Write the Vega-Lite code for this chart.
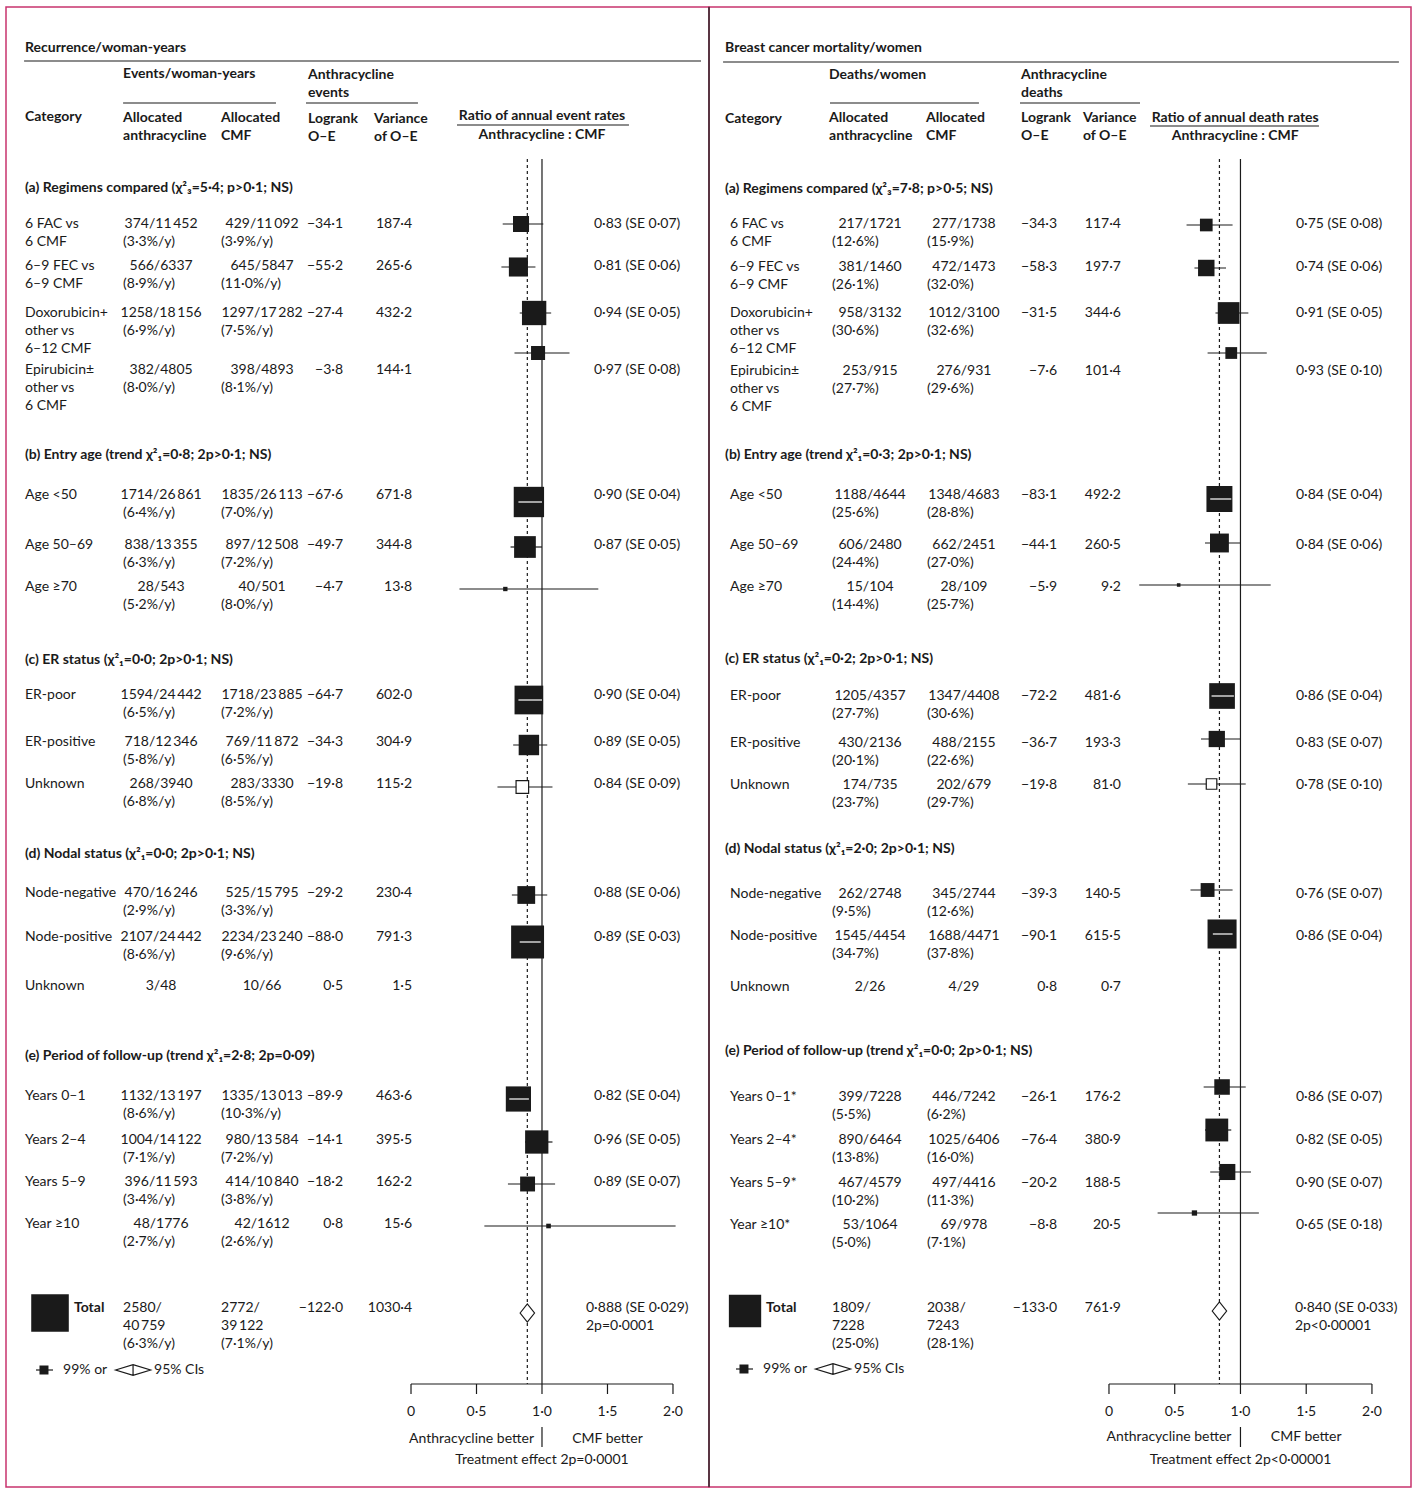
{
  "$schema": "https://vega.github.io/schema/vega-lite/v6.json",
  "background": "white",
  "padding": {"left": 5, "top": 5, "right": 5, "bottom": 3},
  "spacing": 0,
  "bounds": "flush",
  "config": {
    "view": {"stroke": null},
    "text": {"font": "Lato", "fontSize": 14, "color": "#1a1a1a", "baseline": "top", "dy": -7, "align": "left", "lineHeight": 18, "lineBreak": "\n"},
    "rule": {"color": "#1a1a1a", "strokeWidth": 1.2},
    "point": {"opacity": 1}
  },
  "datasets": {
    "ticks": [
      {"r": 0, "lab": "0"},
      {"r": 0.5, "lab": "0·5"},
      {"r": 1, "lab": "1·0"},
      {"r": 1.5, "lab": "1·5"},
      {"r": 2, "lab": "2·0"}
    ],
    "Lrows": [
      {"line": 10.85, "cat": "6 FAC vs\n6 CMF", "af": "374/11\u2009452", "ar": "(3·3%/y)", "cf": "429/11\u2009092", "cr": "(3·9%/y)", "oe": "−34·1", "v": "187·4", "rt": "0·83 (SE 0·07)"},
      {"line": 12.95, "cat": "6–9 FEC vs\n6–9 CMF", "af": "566/6337", "ar": "(8·9%/y)", "cf": "645/5847", "cr": "(11·0%/y)", "oe": "−55·2", "v": "265·6", "rt": "0·81 (SE 0·06)"},
      {"line": 15.3, "cat": "Doxorubicin+\nother vs\n6–12 CMF", "af": "1258/18\u2009156", "ar": "(6·9%/y)", "cf": "1297/17\u2009282", "cr": "(7·5%/y)", "oe": "−27·4", "v": "432·2", "rt": "0·94 (SE 0·05)"},
      {"line": 18.15, "cat": "Epirubicin±\nother vs\n6 CMF", "af": "382/4805", "ar": "(8·0%/y)", "cf": "398/4893", "cr": "(8·1%/y)", "oe": "−3·8", "v": "144·1", "rt": "0·97 (SE 0·08)"},
      {"line": 24.4, "cat": "Age <50", "af": "1714/26\u2009861", "ar": "(6·4%/y)", "cf": "1835/26\u2009113", "cr": "(7·0%/y)", "oe": "−67·6", "v": "671·8", "rt": "0·90 (SE 0·04)"},
      {"line": 26.9, "cat": "Age 50–69", "af": "838/13\u2009355", "ar": "(6·3%/y)", "cf": "897/12\u2009508", "cr": "(7·2%/y)", "oe": "−49·7", "v": "344·8", "rt": "0·87 (SE 0·05)"},
      {"line": 29.0, "cat": "Age ≥70", "af": "28/543", "ar": "(5·2%/y)", "cf": "40/501", "cr": "(8·0%/y)", "oe": "−4·7", "v": "13·8", "rt": ""},
      {"line": 34.4, "cat": "ER-poor", "af": "1594/24\u2009442", "ar": "(6·5%/y)", "cf": "1718/23\u2009885", "cr": "(7·2%/y)", "oe": "−64·7", "v": "602·0", "rt": "0·90 (SE 0·04)"},
      {"line": 36.75, "cat": "ER-positive", "af": "718/12\u2009346", "ar": "(5·8%/y)", "cf": "769/11\u2009872", "cr": "(6·5%/y)", "oe": "−34·3", "v": "304·9", "rt": "0·89 (SE 0·05)"},
      {"line": 38.85, "cat": "Unknown", "af": "268/3940", "ar": "(6·8%/y)", "cf": "283/3330", "cr": "(8·5%/y)", "oe": "−19·8", "v": "115·2", "rt": "0·84 (SE 0·09)"},
      {"line": 44.3, "cat": "Node-negative", "af": "470/16\u2009246", "ar": "(2·9%/y)", "cf": "525/15\u2009795", "cr": "(3·3%/y)", "oe": "−29·2", "v": "230·4", "rt": "0·88 (SE 0·06)"},
      {"line": 46.5, "cat": "Node-positive", "af": "2107/24\u2009442", "ar": "(8·6%/y)", "cf": "2234/23\u2009240", "cr": "(9·6%/y)", "oe": "−88·0", "v": "791·3", "rt": "0·89 (SE 0·03)"},
      {"line": 48.95, "cat": "Unknown", "af": "3/48", "ar": "", "cf": "10/66", "cr": "", "oe": "0·5", "v": "1·5", "rt": ""},
      {"line": 54.45, "cat": "Years 0–1", "af": "1132/13\u2009197", "ar": "(8·6%/y)", "cf": "1335/13\u2009013", "cr": "(10·3%/y)", "oe": "−89·9", "v": "463·6", "rt": "0·82 (SE 0·04)"},
      {"line": 56.65, "cat": "Years 2–4", "af": "1004/14\u2009122", "ar": "(7·1%/y)", "cf": "980/13\u2009584", "cr": "(7·2%/y)", "oe": "−14·1", "v": "395·5", "rt": "0·96 (SE 0·05)"},
      {"line": 58.75, "cat": "Years 5–9", "af": "396/11\u2009593", "ar": "(3·4%/y)", "cf": "414/10\u2009840", "cr": "(3·8%/y)", "oe": "−18·2", "v": "162·2", "rt": "0·89 (SE 0·07)"},
      {"line": 60.85, "cat": "Year ≥10", "af": "48/1776", "ar": "(2·7%/y)", "cf": "42/1612", "cr": "(2·6%/y)", "oe": "0·8", "v": "15·6", "rt": ""}
    ],
    "Lfp": [
      {"cat": "6 FAC vs 6 CMF", "line": 10.85, "r": 0.84, "lo": 0.70, "hi": 1.01, "var": 187.4},
      {"cat": "6–9 FEC vs 6–9 CMF", "line": 13.0, "r": 0.82, "lo": 0.69, "hi": 0.95, "var": 265.6},
      {"cat": "Doxorubicin+ other vs 6–12 CMF", "line": 15.3, "r": 0.94, "lo": 0.83, "hi": 1.07, "var": 432.2},
      {"cat": "Epirubicin± other vs 6 CMF", "line": 17.3, "r": 0.97, "lo": 0.79, "hi": 1.21, "var": 144.1},
      {"cat": "Age <50", "line": 24.75, "r": 0.90, "lo": 0.82, "hi": 1.00, "var": 671.8},
      {"cat": "Age 50–69", "line": 27.0, "r": 0.87, "lo": 0.76, "hi": 1.00, "var": 344.8},
      {"cat": "Age ≥70", "line": 29.1, "r": 0.72, "lo": 0.37, "hi": 1.43, "var": 13.8},
      {"cat": "ER-poor", "line": 34.65, "r": 0.90, "lo": 0.82, "hi": 1.00, "var": 602.0},
      {"cat": "ER-positive", "line": 36.9, "r": 0.90, "lo": 0.78, "hi": 1.04, "var": 304.9},
      {"cat": "Unknown", "line": 39.0, "r": 0.85, "lo": 0.66, "hi": 1.08, "var": 115.2},
      {"cat": "Node-negative", "line": 44.4, "r": 0.88, "lo": 0.77, "hi": 1.04, "var": 230.4},
      {"cat": "Node-positive", "line": 46.75, "r": 0.89, "lo": 0.83, "hi": 0.99, "var": 791.3},
      {"cat": "Years 0–1", "line": 54.6, "r": 0.82, "lo": 0.75, "hi": 0.90, "var": 463.6},
      {"cat": "Years 2–4", "line": 56.75, "r": 0.96, "lo": 0.87, "hi": 1.08, "var": 395.5},
      {"cat": "Years 5–9", "line": 58.85, "r": 0.89, "lo": 0.74, "hi": 1.10, "var": 162.2},
      {"cat": "Year ≥10", "line": 60.95, "r": 1.05, "lo": 0.56, "hi": 2.02, "var": 15.6}
    ],
    "Ltot": [
      {"line": 65.05, "mline": 65.3, "lab": "Total", "af": "2580/\n40\u2009759\n(6·3%/y)", "cf": "2772/\n39\u2009122\n(7·1%/y)", "oe": "−122·0", "v": "1030·4", "rt": "0·888 (SE 0·029)\n2p=0·0001", "r": 0.888, "var": 1030.4}
    ],
    "Lhead": [
      {"line": 9.05, "t": "(a) Regimens compared (χ²₃=5·4; p>0·1; NS)"},
      {"line": 22.4, "t": "(b) Entry age (trend χ²₁=0·8; 2p>0·1; NS)"},
      {"line": 32.65, "t": "(c) ER status (χ²₁=0·0; 2p>0·1; NS)"},
      {"line": 42.35, "t": "(d) Nodal status (χ²₁=0·0; 2p>0·1; NS)"},
      {"line": 52.45, "t": "(e) Period of follow-up (trend χ²₁=2·8; 2p=0·09)"}
    ],
    "Lhdr": [
      {"c": "cat", "line": 2.05, "t": "Recurrence/woman-years"},
      {"c": "cat", "line": 5.5, "t": "Category"},
      {"c": "an", "line": 3.35, "t": "Events/woman-years"},
      {"c": "an", "line": 5.55, "t": "Allocated\nanthracycline"},
      {"c": "cm", "line": 5.55, "t": "Allocated\nCMF"},
      {"c": "lr", "line": 3.4, "t": "Anthracycline\nevents"},
      {"c": "lr", "line": 5.6, "t": "Logrank\nO–E"},
      {"c": "va", "line": 5.6, "t": "Variance\nof O–E"},
      {"c": "mid", "line": 5.45, "t": "Ratio of annual event rates"},
      {"c": "mid", "line": 6.4, "t": "Anthracycline : CMF"}
    ],
    "Lfoot": [
      {"c": "l1", "line": 68.15, "t": "99% or"},
      {"c": "l2", "line": 68.15, "t": "95% CIs"},
      {"c": "lb", "line": 71.6, "t": "Anthracycline better"},
      {"c": "rb", "line": 71.6, "t": "CMF better"},
      {"c": "te", "line": 72.65, "t": "Treatment effect 2p=0·0001"}
    ],
    "Rrows": [
      {"line": 10.85, "cat": "6 FAC vs\n6 CMF", "af": "217/1721", "ar": "(12·6%)", "cf": "277/1738", "cr": "(15·9%)", "oe": "−34·3", "v": "117·4", "rt": "0·75 (SE 0·08)"},
      {"line": 13.0, "cat": "6–9 FEC vs\n6–9 CMF", "af": "381/1460", "ar": "(26·1%)", "cf": "472/1473", "cr": "(32·0%)", "oe": "−58·3", "v": "197·7", "rt": "0·74 (SE 0·06)"},
      {"line": 15.3, "cat": "Doxorubicin+\nother vs\n6–12 CMF", "af": "958/3132", "ar": "(30·6%)", "cf": "1012/3100", "cr": "(32·6%)", "oe": "−31·5", "v": "344·6", "rt": "0·91 (SE 0·05)"},
      {"line": 18.2, "cat": "Epirubicin±\nother vs\n6 CMF", "af": "253/915", "ar": "(27·7%)", "cf": "276/931", "cr": "(29·6%)", "oe": "−7·6", "v": "101·4", "rt": "0·93 (SE 0·10)"},
      {"line": 24.4, "cat": "Age <50", "af": "1188/4644", "ar": "(25·6%)", "cf": "1348/4683", "cr": "(28·8%)", "oe": "−83·1", "v": "492·2", "rt": "0·84 (SE 0·04)"},
      {"line": 26.9, "cat": "Age 50–69", "af": "606/2480", "ar": "(24·4%)", "cf": "662/2451", "cr": "(27·0%)", "oe": "−44·1", "v": "260·5", "rt": "0·84 (SE 0·06)"},
      {"line": 29.0, "cat": "Age ≥70", "af": "15/104", "ar": "(14·4%)", "cf": "28/109", "cr": "(25·7%)", "oe": "−5·9", "v": "9·2", "rt": ""},
      {"line": 34.45, "cat": "ER-poor", "af": "1205/4357", "ar": "(27·7%)", "cf": "1347/4408", "cr": "(30·6%)", "oe": "−72·2", "v": "481·6", "rt": "0·86 (SE 0·04)"},
      {"line": 36.8, "cat": "ER-positive", "af": "430/2136", "ar": "(20·1%)", "cf": "488/2155", "cr": "(22·6%)", "oe": "−36·7", "v": "193·3", "rt": "0·83 (SE 0·07)"},
      {"line": 38.9, "cat": "Unknown", "af": "174/735", "ar": "(23·7%)", "cf": "202/679", "cr": "(29·7%)", "oe": "−19·8", "v": "81·0", "rt": "0·78 (SE 0·10)"},
      {"line": 44.35, "cat": "Node-negative", "af": "262/2748", "ar": "(9·5%)", "cf": "345/2744", "cr": "(12·6%)", "oe": "−39·3", "v": "140·5", "rt": "0·76 (SE 0·07)"},
      {"line": 46.45, "cat": "Node-positive", "af": "1545/4454", "ar": "(34·7%)", "cf": "1688/4471", "cr": "(37·8%)", "oe": "−90·1", "v": "615·5", "rt": "0·86 (SE 0·04)"},
      {"line": 49.0, "cat": "Unknown", "af": "2/26", "ar": "", "cf": "4/29", "cr": "", "oe": "0·8", "v": "0·7", "rt": ""},
      {"line": 54.5, "cat": "Years 0–1*", "af": "399/7228", "ar": "(5·5%)", "cf": "446/7242", "cr": "(6·2%)", "oe": "−26·1", "v": "176·2", "rt": "0·86 (SE 0·07)"},
      {"line": 56.65, "cat": "Years 2–4*", "af": "890/6464", "ar": "(13·8%)", "cf": "1025/6406", "cr": "(16·0%)", "oe": "−76·4", "v": "380·9", "rt": "0·82 (SE 0·05)"},
      {"line": 58.8, "cat": "Years 5–9*", "af": "467/4579", "ar": "(10·2%)", "cf": "497/4416", "cr": "(11·3%)", "oe": "−20·2", "v": "188·5", "rt": "0·90 (SE 0·07)"},
      {"line": 60.9, "cat": "Year ≥10*", "af": "53/1064", "ar": "(5·0%)", "cf": "69/978", "cr": "(7·1%)", "oe": "−8·8", "v": "20·5", "rt": "0·65 (SE 0·18)"}
    ],
    "Rfp": [
      {"cat": "6 FAC vs 6 CMF", "line": 10.9, "r": 0.74, "lo": 0.59, "hi": 0.94, "var": 117.4},
      {"cat": "6–9 FEC vs 6–9 CMF", "line": 13.05, "r": 0.74, "lo": 0.65, "hi": 0.89, "var": 197.7},
      {"cat": "Doxorubicin+ other vs 6–12 CMF", "line": 15.3, "r": 0.91, "lo": 0.81, "hi": 1.06, "var": 344.6},
      {"cat": "Epirubicin± other vs 6 CMF", "line": 17.3, "r": 0.93, "lo": 0.75, "hi": 1.20, "var": 101.4},
      {"cat": "Age <50", "line": 24.6, "r": 0.84, "lo": 0.77, "hi": 0.93, "var": 492.2},
      {"cat": "Age 50–69", "line": 26.8, "r": 0.84, "lo": 0.73, "hi": 1.00, "var": 260.5},
      {"cat": "Age ≥70", "line": 28.9, "r": 0.53, "lo": 0.23, "hi": 1.23, "var": 9.2},
      {"cat": "ER-poor", "line": 34.45, "r": 0.86, "lo": 0.78, "hi": 0.95, "var": 481.6},
      {"cat": "ER-positive", "line": 36.6, "r": 0.82, "lo": 0.70, "hi": 1.00, "var": 193.3},
      {"cat": "Unknown", "line": 38.85, "r": 0.78, "lo": 0.60, "hi": 1.04, "var": 81.0},
      {"cat": "Node-negative", "line": 44.15, "r": 0.75, "lo": 0.62, "hi": 0.94, "var": 140.5},
      {"cat": "Node-positive", "line": 46.35, "r": 0.86, "lo": 0.79, "hi": 0.94, "var": 615.5},
      {"cat": "Years 0–1", "line": 54.0, "r": 0.86, "lo": 0.72, "hi": 1.04, "var": 176.2},
      {"cat": "Years 2–4", "line": 56.15, "r": 0.82, "lo": 0.73, "hi": 0.93, "var": 380.9},
      {"cat": "Years 5–9", "line": 58.25, "r": 0.90, "lo": 0.77, "hi": 1.08, "var": 188.5},
      {"cat": "Year ≥10", "line": 60.3, "r": 0.65, "lo": 0.37, "hi": 1.14, "var": 20.5}
    ],
    "Rtot": [
      {"line": 65.05, "mline": 65.2, "lab": "Total", "af": "1809/\n7228\n(25·0%)", "cf": "2038/\n7243\n(28·1%)", "oe": "−133·0", "v": "761·9", "rt": "0·840 (SE 0·033)\n2p<0·00001", "r": 0.84, "var": 761.9}
    ],
    "Rhead": [
      {"line": 9.1, "t": "(a) Regimens compared (χ²₃=7·8; p>0·5; NS)"},
      {"line": 22.4, "t": "(b) Entry age (trend χ²₁=0·3; 2p>0·1; NS)"},
      {"line": 32.6, "t": "(c) ER status (χ²₁=0·2; 2p>0·1; NS)"},
      {"line": 42.1, "t": "(d) Nodal status (χ²₁=2·0; 2p>0·1; NS)"},
      {"line": 52.2, "t": "(e) Period of follow-up (trend χ²₁=0·0; 2p>0·1; NS)"}
    ],
    "Rhdr": [
      {"c": "cat", "line": 2.05, "t": "Breast cancer mortality/women"},
      {"c": "cat", "line": 5.6, "t": "Category"},
      {"c": "an", "line": 3.4, "t": "Deaths/women"},
      {"c": "an", "line": 5.55, "t": "Allocated\nanthracycline"},
      {"c": "cm", "line": 5.55, "t": "Allocated\nCMF"},
      {"c": "lr", "line": 3.4, "t": "Anthracycline\ndeaths"},
      {"c": "lr", "line": 5.55, "t": "Logrank\nO–E"},
      {"c": "va", "line": 5.55, "t": "Variance\nof O–E"},
      {"c": "mid", "line": 5.55, "t": "Ratio of annual death rates"},
      {"c": "mid", "line": 6.45, "t": "Anthracycline : CMF"}
    ],
    "Rfoot": [
      {"c": "l1", "line": 68.1, "t": "99% or"},
      {"c": "l2", "line": 68.1, "t": "95% CIs"},
      {"c": "lb", "line": 71.5, "t": "Anthracycline better"},
      {"c": "rb", "line": 71.5, "t": "CMF better"},
      {"c": "te", "line": 72.65, "t": "Treatment effect 2p<0·00001"}
    ]
  },
  "hconcat": [
    {
      "width": 703,
      "height": 1480,
      "view": {"stroke": "#c8336e", "strokeWidth": 1.5},
      "layer": [
        {"data": {"values": [{}]}, "mark": "rule",
         "encoding": {
           "x": {"datum": 0, "scale": {"domain": [-3.092, 2.275], "nice": false, "zero": false}, "axis": null},
           "x2": {"datum": 2},
           "y": {"datum": 68.85, "scale": {"domain": [0, 74], "reverse": true, "nice": false, "zero": false}, "axis": null}
         }},
        {"data": {"name": "ticks"},
         "encoding": {"x": {"field": "r", "type": "quantitative", "axis": null}},
         "layer": [
           {"mark": "rule", "encoding": {"y": {"datum": 68.85, "axis": null}, "y2": {"datum": 69.35}}},
           {"mark": {"type": "text", "align": "center"}, "encoding": {"y": {"datum": 70.25, "axis": null}, "text": {"field": "lab"}}}
         ]},
        {"data": {"values": [{}]}, "mark": "rule",
         "encoding": {"x": {"datum": 1, "axis": null}, "y": {"datum": 7.6, "axis": null}, "y2": {"datum": 68.85}}},
        {"data": {"values": [{}]}, "mark": "rule",
         "encoding": {"x": {"datum": 1, "axis": null}, "y": {"datum": 71.0, "axis": null}, "y2": {"datum": 72.0}}},
        {"data": {"values": [{}]}, "mark": "rule",
         "encoding": {"x": {"datum": -2.954, "axis": null}, "x2": {"datum": 2.214}, "y": {"datum": 2.7, "axis": null}}},
        {"data": {"values": [{}]}, "mark": "rule",
         "encoding": {"x": {"datum": -2.198, "axis": null}, "x2": {"datum": -1.031}, "y": {"datum": 4.8, "axis": null}}},
        {"data": {"values": [{}]}, "mark": "rule",
         "encoding": {"x": {"datum": -0.802, "axis": null}, "x2": {"datum": 0.053}, "y": {"datum": 4.8, "axis": null}}},
        {"data": {"values": [{}]}, "mark": "rule",
         "encoding": {"x": {"datum": 0.351, "axis": null}, "x2": {"datum": 1.664}, "y": {"datum": 5.9, "axis": null}}},
        {"data": {"values": [{}]}, "mark": "rule",
         "encoding": {"x": {"datum": -2.863, "axis": null}, "x2": {"datum": -2.733}, "y": {"datum": 68.15, "axis": null}}},
        {"data": {"values": [{}]}, "mark": {"type": "point", "shape": "square", "filled": true, "color": "#1a1a1a", "strokeWidth": 0, "size": 81},
         "encoding": {"x": {"datum": -2.802, "axis": null}, "y": {"datum": 68.15, "axis": null}}},
        {"data": {"values": [{}]}, "mark": {"type": "point", "shape": "M-1,0L0,-0.3L1,0L0,0.3ZM0,-0.3L0,0.3", "filled": true, "fill": "white", "stroke": "#1a1a1a", "strokeWidth": 1.2, "size": 1225},
         "encoding": {"x": {"datum": -2.122, "axis": null}, "y": {"datum": 68.15, "axis": null}}},
        {"data": {"name": "Ltot"},
         "encoding": {"y": {"field": "line", "type": "quantitative", "axis": null}},
         "layer": [
           {"mark": {"type": "rule", "strokeDash": [3, 3]},
            "encoding": {"x": {"field": "r", "type": "quantitative", "axis": null}, "y": {"datum": 7.6, "axis": null}, "y2": {"datum": 68.85}}},
           {"mark": {"type": "point", "shape": "M-0.8,0L0,-1L0.8,0L0,1Z", "filled": true, "fill": "white", "stroke": "#1a1a1a", "strokeWidth": 1.2, "size": 324},
            "encoding": {"x": {"field": "r", "type": "quantitative", "axis": null}, "y": {"field": "mline", "type": "quantitative", "axis": null}}},
           {"mark": {"type": "point", "shape": "square", "filled": true, "color": "#1a1a1a", "strokeWidth": 0},
            "encoding": {"x": {"datum": -2.756, "axis": null}, "y": {"field": "mline", "type": "quantitative", "axis": null}, "size": {"field": "var", "type": "quantitative", "legend": null}}},
           {"mark": {"type": "text", "fontWeight": "bold"}, "encoding": {"x": {"datum": -2.573, "axis": null}, "text": {"field": "lab"}}},
           {"mark": "text", "encoding": {"x": {"datum": -2.198, "axis": null}, "text": {"field": "af"}}},
           {"mark": "text", "encoding": {"x": {"datum": -1.45, "axis": null}, "text": {"field": "cf"}}},
           {"mark": {"type": "text", "align": "right"}, "encoding": {"x": {"datum": -0.519, "axis": null}, "text": {"field": "oe"}}},
           {"mark": {"type": "text", "align": "right"}, "encoding": {"x": {"datum": 0.008, "axis": null}, "text": {"field": "v"}}},
           {"mark": "text", "encoding": {"x": {"datum": 1.336, "axis": null}, "text": {"field": "rt"}}}
         ]},
        {"data": {"name": "Lfp"},
         "encoding": {"y": {"field": "line", "type": "quantitative", "axis": null}},
         "layer": [
           {"mark": "rule", "encoding": {"x": {"field": "lo", "type": "quantitative", "axis": null}, "x2": {"field": "hi"}}},
           {"transform": [{"filter": "datum.cat != 'Unknown'"}],
            "mark": {"type": "point", "shape": "square", "filled": true, "color": "#1a1a1a", "strokeWidth": 0},
            "encoding": {"x": {"field": "r", "type": "quantitative", "axis": null},
                         "size": {"field": "var", "type": "quantitative", "scale": {"domain": [0, 1000], "range": [0, 1370]}, "legend": null}}},
           {"transform": [{"filter": "datum.cat == 'Unknown'"}],
            "mark": {"type": "point", "shape": "square", "filled": true, "fill": "white", "stroke": "#1a1a1a", "strokeWidth": 1.2},
            "encoding": {"x": {"field": "r", "type": "quantitative", "axis": null}, "size": {"field": "var", "type": "quantitative", "legend": null}}},
           {"transform": [{"filter": "datum.var > 450"}],
            "mark": {"type": "rule", "color": "white"},
            "encoding": {"x": {"field": "lo", "type": "quantitative", "axis": null}, "x2": {"field": "hi"}}}
         ]},
        {"data": {"name": "Lrows"},
         "encoding": {"y": {"field": "line", "type": "quantitative", "axis": null}},
         "layer": [
           {"mark": "text", "encoding": {"x": {"datum": -2.947, "axis": null}, "text": {"field": "cat"}}},
           {"mark": {"type": "text", "align": "center"}, "encoding": {"x": {"datum": -1.908, "axis": null}, "text": {"field": "af"}}},
           {"mark": {"type": "text", "dy": 11}, "encoding": {"x": {"datum": -2.198, "axis": null}, "text": {"field": "ar"}}},
           {"mark": {"type": "text", "align": "center"}, "encoding": {"x": {"datum": -1.137, "axis": null}, "text": {"field": "cf"}}},
           {"mark": {"type": "text", "dy": 11}, "encoding": {"x": {"datum": -1.45, "axis": null}, "text": {"field": "cr"}}},
           {"mark": {"type": "text", "align": "right"}, "encoding": {"x": {"datum": -0.519, "axis": null}, "text": {"field": "oe"}}},
           {"mark": {"type": "text", "align": "right"}, "encoding": {"x": {"datum": 0.008, "axis": null}, "text": {"field": "v"}}},
           {"mark": "text", "encoding": {"x": {"datum": 1.397, "axis": null}, "text": {"field": "rt"}}}
         ]},
        {"data": {"name": "Lhead"}, "mark": {"type": "text", "fontWeight": "bold"},
         "encoding": {"y": {"field": "line", "type": "quantitative", "axis": null}, "x": {"datum": -2.947, "axis": null}, "text": {"field": "t"}}},
        {"data": {"name": "Lhdr"},
         "encoding": {"y": {"field": "line", "type": "quantitative", "axis": null}, "text": {"field": "t"}},
         "layer": [
           {"transform": [{"filter": "datum.c == 'cat'"}], "mark": {"type": "text", "fontWeight": "bold"}, "encoding": {"x": {"datum": -2.947, "axis": null}}},
           {"transform": [{"filter": "datum.c == 'an'"}], "mark": {"type": "text", "fontWeight": "bold"}, "encoding": {"x": {"datum": -2.198, "axis": null}}},
           {"transform": [{"filter": "datum.c == 'cm'"}], "mark": {"type": "text", "fontWeight": "bold"}, "encoding": {"x": {"datum": -1.45, "axis": null}}},
           {"transform": [{"filter": "datum.c == 'lr'"}], "mark": {"type": "text", "fontWeight": "bold"}, "encoding": {"x": {"datum": -0.786, "axis": null}}},
           {"transform": [{"filter": "datum.c == 'va'"}], "mark": {"type": "text", "fontWeight": "bold"}, "encoding": {"x": {"datum": -0.282, "axis": null}}},
           {"transform": [{"filter": "datum.c == 'mid'"}], "mark": {"type": "text", "fontWeight": "bold", "align": "center"}, "encoding": {"x": {"datum": 1.0, "axis": null}}}
         ]},
        {"data": {"name": "Lfoot"},
         "encoding": {"y": {"field": "line", "type": "quantitative", "axis": null}, "text": {"field": "t"}},
         "layer": [
           {"transform": [{"filter": "datum.c == 'l1'"}], "mark": "text", "encoding": {"x": {"datum": -2.656, "axis": null}}},
           {"transform": [{"filter": "datum.c == 'l2'"}], "mark": "text", "encoding": {"x": {"datum": -1.962, "axis": null}}},
           {"transform": [{"filter": "datum.c == 'lb'"}], "mark": {"type": "text", "align": "right", "dx": -8}, "encoding": {"x": {"datum": 1.0, "axis": null}}},
           {"transform": [{"filter": "datum.c == 'rb'"}], "mark": {"type": "text", "align": "center"}, "encoding": {"x": {"datum": 1.5, "axis": null}}},
           {"transform": [{"filter": "datum.c == 'te'"}], "mark": {"type": "text", "align": "center"}, "encoding": {"x": {"datum": 1.0, "axis": null}}}
         ]}
      ]
    },
    {
      "width": 702,
      "height": 1480,
      "view": {"stroke": "#c8336e", "strokeWidth": 1.5},
      "layer": [
        {"data": {"values": [{}]}, "mark": "rule",
         "encoding": {
           "x": {"datum": 0, "scale": {"domain": [-3.042, 2.297], "nice": false, "zero": false}, "axis": null},
           "x2": {"datum": 2},
           "y": {"datum": 68.85, "scale": {"domain": [0, 74], "reverse": true, "nice": false, "zero": false}, "axis": null}
         }},
        {"data": {"name": "ticks"},
         "encoding": {"x": {"field": "r", "type": "quantitative", "axis": null}},
         "layer": [
           {"mark": "rule", "encoding": {"y": {"datum": 68.85, "axis": null}, "y2": {"datum": 69.35}}},
           {"mark": {"type": "text", "align": "center"}, "encoding": {"y": {"datum": 70.25, "axis": null}, "text": {"field": "lab"}}}
         ]},
        {"data": {"values": [{}]}, "mark": {"type": "rule", "color": "#333", "strokeWidth": 1.5},
         "encoding": {"x": {"datum": -3.042, "axis": null}, "y": {"datum": 0, "axis": null}, "y2": {"datum": 74}}},
        {"data": {"values": [{}]}, "mark": "rule",
         "encoding": {"x": {"datum": 1, "axis": null}, "y": {"datum": 7.6, "axis": null}, "y2": {"datum": 68.85}}},
        {"data": {"values": [{}]}, "mark": "rule",
         "encoding": {"x": {"datum": 1, "axis": null}, "y": {"datum": 71.0, "axis": null}, "y2": {"datum": 72.0}}},
        {"data": {"values": [{}]}, "mark": "rule",
         "encoding": {"x": {"datum": -2.935, "axis": null}, "x2": {"datum": 2.205}, "y": {"datum": 2.75, "axis": null}}},
        {"data": {"values": [{}]}, "mark": "rule",
         "encoding": {"x": {"datum": -2.122, "axis": null}, "x2": {"datum": -0.989}, "y": {"datum": 4.8, "axis": null}}},
        {"data": {"values": [{}]}, "mark": "rule",
         "encoding": {"x": {"datum": -0.677, "axis": null}, "x2": {"datum": 0.236}, "y": {"datum": 4.8, "axis": null}}},
        {"data": {"values": [{}]}, "mark": "rule",
         "encoding": {"x": {"datum": 0.312, "axis": null}, "x2": {"datum": 1.597}, "y": {"datum": 5.95, "axis": null}}},
        {"data": {"values": [{}]}, "mark": "rule",
         "encoding": {"x": {"datum": -2.837, "axis": null}, "x2": {"datum": -2.707}, "y": {"datum": 68.1, "axis": null}}},
        {"data": {"values": [{}]}, "mark": {"type": "point", "shape": "square", "filled": true, "color": "#1a1a1a", "strokeWidth": 0, "size": 81},
         "encoding": {"x": {"datum": -2.776, "axis": null}, "y": {"datum": 68.1, "axis": null}}},
        {"data": {"values": [{}]}, "mark": {"type": "point", "shape": "M-1,0L0,-0.3L1,0L0,0.3ZM0,-0.3L0,0.3", "filled": true, "fill": "white", "stroke": "#1a1a1a", "strokeWidth": 1.2, "size": 1225},
         "encoding": {"x": {"datum": -2.099, "axis": null}, "y": {"datum": 68.1, "axis": null}}},
        {"data": {"name": "Rtot"},
         "encoding": {"y": {"field": "line", "type": "quantitative", "axis": null}},
         "layer": [
           {"mark": {"type": "rule", "strokeDash": [3, 3]},
            "encoding": {"x": {"field": "r", "type": "quantitative", "axis": null}, "y": {"datum": 7.6, "axis": null}, "y2": {"datum": 68.85}}},
           {"mark": {"type": "point", "shape": "M-0.8,0L0,-1L0.8,0L0,1Z", "filled": true, "fill": "white", "stroke": "#1a1a1a", "strokeWidth": 1.2, "size": 324},
            "encoding": {"x": {"field": "r", "type": "quantitative", "axis": null}, "y": {"field": "mline", "type": "quantitative", "axis": null}}},
           {"mark": {"type": "point", "shape": "square", "filled": true, "color": "#1a1a1a", "strokeWidth": 0},
            "encoding": {"x": {"datum": -2.768, "axis": null}, "y": {"field": "mline", "type": "quantitative", "axis": null}, "size": {"field": "var", "type": "quantitative", "legend": null}}},
           {"mark": {"type": "text", "fontWeight": "bold"}, "encoding": {"x": {"datum": -2.608, "axis": null}, "text": {"field": "lab"}}},
           {"mark": "text", "encoding": {"x": {"datum": -2.106, "axis": null}, "text": {"field": "af"}}},
           {"mark": "text", "encoding": {"x": {"datum": -1.384, "axis": null}, "text": {"field": "cf"}}},
           {"mark": {"type": "text", "align": "right"}, "encoding": {"x": {"datum": -0.395, "axis": null}, "text": {"field": "oe"}}},
           {"mark": {"type": "text", "align": "right"}, "encoding": {"x": {"datum": 0.091, "axis": null}, "text": {"field": "v"}}},
           {"mark": "text", "encoding": {"x": {"datum": 1.414, "axis": null}, "text": {"field": "rt"}}}
         ]},
        {"data": {"name": "Rfp"},
         "encoding": {"y": {"field": "line", "type": "quantitative", "axis": null}},
         "layer": [
           {"mark": "rule", "encoding": {"x": {"field": "lo", "type": "quantitative", "axis": null}, "x2": {"field": "hi"}}},
           {"transform": [{"filter": "datum.cat != 'Unknown'"}],
            "mark": {"type": "point", "shape": "square", "filled": true, "color": "#1a1a1a", "strokeWidth": 0},
            "encoding": {"x": {"field": "r", "type": "quantitative", "axis": null},
                         "size": {"field": "var", "type": "quantitative", "scale": {"domain": [0, 1000], "range": [0, 1500]}, "legend": null}}},
           {"transform": [{"filter": "datum.cat == 'Unknown'"}],
            "mark": {"type": "point", "shape": "square", "filled": true, "fill": "white", "stroke": "#1a1a1a", "strokeWidth": 1.2},
            "encoding": {"x": {"field": "r", "type": "quantitative", "axis": null}, "size": {"field": "var", "type": "quantitative", "legend": null}}},
           {"transform": [{"filter": "datum.var > 450"}],
            "mark": {"type": "rule", "color": "white"},
            "encoding": {"x": {"field": "lo", "type": "quantitative", "axis": null}, "x2": {"field": "hi"}}}
         ]},
        {"data": {"name": "Rrows"},
         "encoding": {"y": {"field": "line", "type": "quantitative", "axis": null}},
         "layer": [
           {"mark": "text", "encoding": {"x": {"datum": -2.882, "axis": null}, "text": {"field": "cat"}}},
           {"mark": {"type": "text", "align": "center"}, "encoding": {"x": {"datum": -1.817, "axis": null}, "text": {"field": "af"}}},
           {"mark": {"type": "text", "dy": 11}, "encoding": {"x": {"datum": -2.106, "axis": null}, "text": {"field": "ar"}}},
           {"mark": {"type": "text", "align": "center"}, "encoding": {"x": {"datum": -1.103, "axis": null}, "text": {"field": "cf"}}},
           {"mark": {"type": "text", "dy": 11}, "encoding": {"x": {"datum": -1.384, "axis": null}, "text": {"field": "cr"}}},
           {"mark": {"type": "text", "align": "right"}, "encoding": {"x": {"datum": -0.395, "axis": null}, "text": {"field": "oe"}}},
           {"mark": {"type": "text", "align": "right"}, "encoding": {"x": {"datum": 0.091, "axis": null}, "text": {"field": "v"}}},
           {"mark": "text", "encoding": {"x": {"datum": 1.422, "axis": null}, "text": {"field": "rt"}}}
         ]},
        {"data": {"name": "Rhead"}, "mark": {"type": "text", "fontWeight": "bold"},
         "encoding": {"y": {"field": "line", "type": "quantitative", "axis": null}, "x": {"datum": -2.92, "axis": null}, "text": {"field": "t"}}},
        {"data": {"name": "Rhdr"},
         "encoding": {"y": {"field": "line", "type": "quantitative", "axis": null}, "text": {"field": "t"}},
         "layer": [
           {"transform": [{"filter": "datum.c == 'cat'"}], "mark": {"type": "text", "fontWeight": "bold"}, "encoding": {"x": {"datum": -2.92, "axis": null}}},
           {"transform": [{"filter": "datum.c == 'an'"}], "mark": {"type": "text", "fontWeight": "bold"}, "encoding": {"x": {"datum": -2.129, "axis": null}}},
           {"transform": [{"filter": "datum.c == 'cm'"}], "mark": {"type": "text", "fontWeight": "bold"}, "encoding": {"x": {"datum": -1.392, "axis": null}}},
           {"transform": [{"filter": "datum.c == 'lr'"}], "mark": {"type": "text", "fontWeight": "bold"}, "encoding": {"x": {"datum": -0.669, "axis": null}}},
           {"transform": [{"filter": "datum.c == 'va'"}], "mark": {"type": "text", "fontWeight": "bold"}, "encoding": {"x": {"datum": -0.198, "axis": null}}},
           {"transform": [{"filter": "datum.c == 'mid'"}], "mark": {"type": "text", "fontWeight": "bold", "align": "center"}, "encoding": {"x": {"datum": 0.96, "axis": null}}}
         ]},
        {"data": {"name": "Rfoot"},
         "encoding": {"y": {"field": "line", "type": "quantitative", "axis": null}, "text": {"field": "t"}},
         "layer": [
           {"transform": [{"filter": "datum.c == 'l1'"}], "mark": "text", "encoding": {"x": {"datum": -2.631, "axis": null}}},
           {"transform": [{"filter": "datum.c == 'l2'"}], "mark": "text", "encoding": {"x": {"datum": -1.939, "axis": null}}},
           {"transform": [{"filter": "datum.c == 'lb'"}], "mark": {"type": "text", "align": "right", "dx": -9}, "encoding": {"x": {"datum": 1.0, "axis": null}}},
           {"transform": [{"filter": "datum.c == 'rb'"}], "mark": {"type": "text", "align": "center"}, "encoding": {"x": {"datum": 1.5, "axis": null}}},
           {"transform": [{"filter": "datum.c == 'te'"}], "mark": {"type": "text", "align": "center"}, "encoding": {"x": {"datum": 1.0, "axis": null}}}
         ]}
      ]
    }
  ]
}
